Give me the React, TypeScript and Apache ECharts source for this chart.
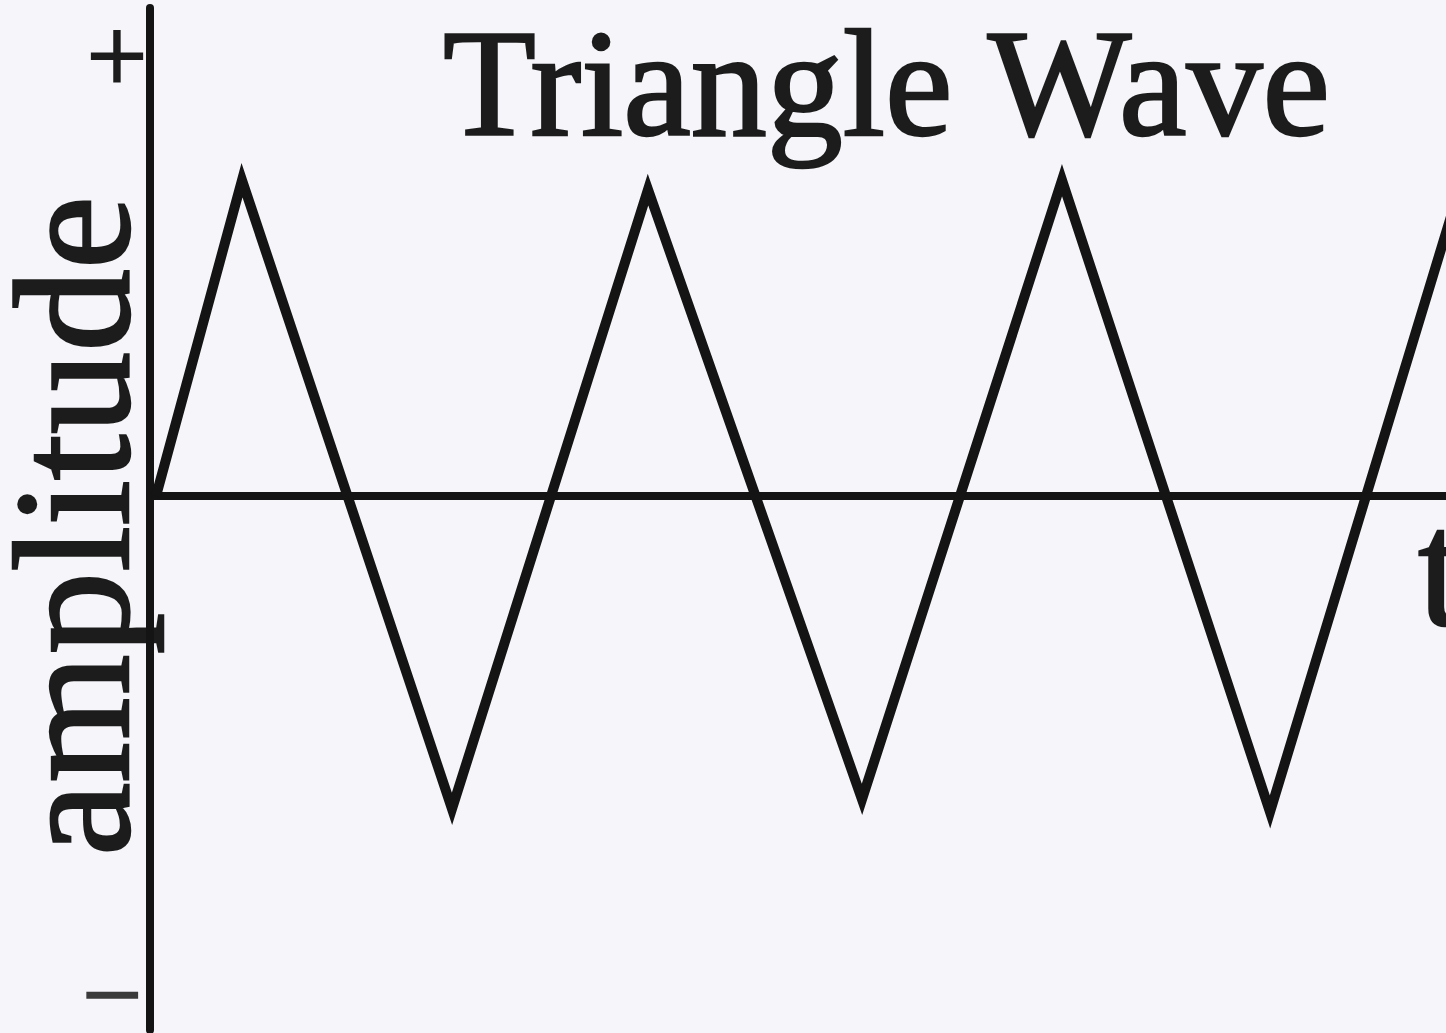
import React, { useEffect, useRef } from "react";
import * as echarts from "echarts";

// Time positions of the wave's turning points (arbitrary time units)
const timePoints = [0.06, 0.92, 3.02, 4.98, 7.12, 9.12, 11.2, 13.12];
// Amplitude at each turning point (peak = +1, trough = -1)
const amplitudes = [0.0, 1.0, -0.99, 0.97, -0.96, 1.0, -1.0, 1.0];

const titleText = "Triangle Wave";
const yAxisName = "amplitude";
const xAxisName = "t";
const plusLabel = "+";
const minusLabel = "\u2212";

const ink = "#141414";
const textInk = "#1c1c1c";
const serif = "'Liberation Serif', 'Times New Roman', serif";

export default function App() {
  const ref = useRef<HTMLDivElement>(null);

  useEffect(() => {
    if (!ref.current) return;
    const chart = echarts.init(ref.current, undefined, { renderer: "svg" });
    const data = timePoints.map((t, i) => [t, amplitudes[i]]);

    chart.setOption({
      animation: false,
      backgroundColor: "#f5f5fa",
      grid: { left: 150, right: 0, top: 8, bottom: 3 },
      xAxis: {
        type: "value",
        min: 0,
        max: 12.96,
        axisLine: { show: true, onZero: true, lineStyle: { color: ink, width: 8 } },
        axisTick: { show: false },
        axisLabel: { show: false },
        splitLine: { show: false },
      },
      yAxis: {
        type: "value",
        min: -1.69,
        max: 1.545,
        axisLine: { show: true, lineStyle: { color: ink, width: 8 } },
        axisTick: { show: false },
        axisLabel: { show: false },
        splitLine: { show: false },
      },
      series: [
        {
          type: "line",
          data,
          symbol: "none",
          clip: true,
          lineStyle: { color: ink, width: 10, join: "miter", miterLimit: 10 },
        },
      ],
      graphic: [
        {
          type: "text",
          x: 443,
          y: 84,
          style: {
            text: titleText,
            font: `152px ${serif}`,
            fill: textInk,
            stroke: textInk,
            lineWidth: 2.5,
            textAlign: "left",
            textVerticalAlign: "middle",
          },
        },
        {
          type: "text",
          x: 72,
          y: 526,
          rotation: Math.PI / 2,
          style: {
            text: yAxisName,
            font: `165px ${serif}`,
            fill: textInk,
            stroke: textInk,
            lineWidth: 2.5,
            textAlign: "center",
            textVerticalAlign: "middle",
          },
        },
        {
          type: "text",
          x: 1418,
          y: 568,
          style: {
            text: xAxisName,
            font: `165px ${serif}`,
            fill: textInk,
            stroke: textInk,
            lineWidth: 2.5,
            textAlign: "left",
            textVerticalAlign: "middle",
          },
        },
        {
          type: "text",
          x: 117,
          y: 55,
          style: {
            text: plusLabel,
            font: `108px ${serif}`,
            fill: textInk,
            stroke: textInk,
            lineWidth: 2,
            textAlign: "center",
            textVerticalAlign: "middle",
          },
        },
        {
          type: "text",
          x: 112,
          y: 994,
          style: {
            text: minusLabel,
            font: `108px ${serif}`,
            fill: "#3a3a3a",
            stroke: "#3a3a3a",
            lineWidth: 1.5,
            textAlign: "center",
            textVerticalAlign: "middle",
          },
        },
      ],
    });

    return () => chart.dispose();
  }, []);

  return (
    <div
      ref={ref}
      style={{ position: "fixed", left: 0, top: 0, width: 1446, height: 1033 }}
    />
  );
}
